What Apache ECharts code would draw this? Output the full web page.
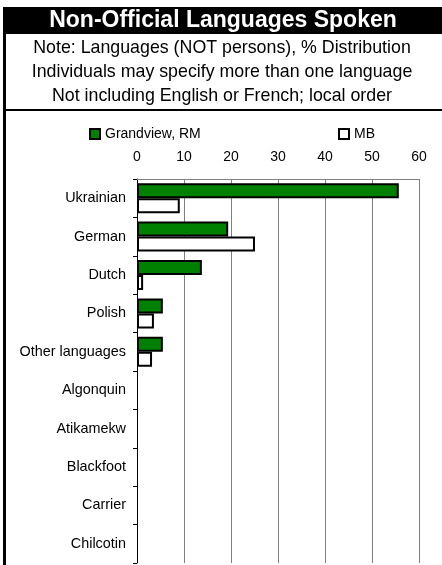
<!DOCTYPE html>
<html><head><meta charset="utf-8">
<script src="https://cdn.jsdelivr.net/npm/echarts@6/dist/echarts.min.js"></script>
<style>html,body{margin:0;padding:0;background:#fff;}#c{width:442px;height:565px;}</style>
</head><body><div id="c"></div>
<script>
const titleText = 'Non-Official Languages Spoken';
const subtitleLines = [
  'Note: Languages (NOT persons), % Distribution',
  'Individuals may specify more than one language',
  'Not including English or French; local order'
];
const categories = ['Ukrainian','German','Dutch','Polish','Other languages','Algonquin','Atikamekw','Blackfoot','Carrier','Chilcotin'];
const seriesNames = ['Grandview, RM','MB'];
const grandview = [55.7, 19.4, 13.8, 5.5, 5.5, 0, 0, 0, 0, 0];
const mb = [9.1, 25.1, 1.3, 3.6, 3.2, 0, 0, 0, 0, 0];
const xTicks = {min: 0, max: 60, interval: 10};

const font = 'Liberation Sans, Arial, sans-serif';
const toData = arr => arr.map(v => v === 0 ? {value: v, itemStyle: {borderWidth: 0}} : v);
const chart = echarts.init(document.getElementById('c'));
chart.setOption({
  backgroundColor: '#fff',
  animation: false,
  textStyle: {fontFamily: font},
  graphic: [
    {type: 'rect', shape: {x: 3, y: 7, width: 439, height: 27}, style: {fill: '#000'}},
    {type: 'rect', shape: {x: 3, y: 7, width: 3, height: 558}, style: {fill: '#000'}},
    {type: 'rect', shape: {x: 3, y: 109, width: 439, height: 2}, style: {fill: '#000'}},
    {type: 'text', x: 223, y: 21, style: {text: titleText, fill: '#fff', font: 'bold 23px ' + font, textAlign: 'center', textVerticalAlign: 'middle'}},
    {type: 'text', x: 222, y: 48, style: {text: subtitleLines[0], fill: '#000', font: '17.8px ' + font, textAlign: 'center', textVerticalAlign: 'middle'}},
    {type: 'text', x: 222, y: 72, style: {text: subtitleLines[1], fill: '#000', font: '17.8px ' + font, textAlign: 'center', textVerticalAlign: 'middle'}},
    {type: 'text', x: 222, y: 96, style: {text: subtitleLines[2], fill: '#000', font: '17.8px ' + font, textAlign: 'center', textVerticalAlign: 'middle'}}
  ],
  legend: [
    {data: [seriesNames[0]], left: 84, top: 122, itemWidth: 10, itemHeight: 10, itemGap: 0,
     icon: 'rect', textStyle: {fontSize: 14, color: '#000', fontFamily: font}},
    {data: [seriesNames[1]], left: 333, top: 122, itemWidth: 10, itemHeight: 10, itemGap: 0,
     icon: 'rect', textStyle: {fontSize: 14, color: '#000', fontFamily: font}}
  ],
  grid: {left: 137, top: 179, width: 282, height: 384, containLabel: false},
  xAxis: {
    type: 'value', position: 'top', min: xTicks.min, max: xTicks.max, interval: xTicks.interval,
    axisLine: {show: true, lineStyle: {color: '#808080', width: 1}},
    axisTick: {show: false},
    splitLine: {show: true, lineStyle: {color: '#808080', width: 1}},
    axisLabel: {fontSize: 14, color: '#000', margin: 15, fontFamily: font}
  },
  yAxis: {
    type: 'category', inverse: true, data: categories,
    axisLine: {show: true, lineStyle: {color: '#000', width: 1}},
    axisTick: {show: true, length: 4, lineStyle: {color: '#000'}},
    axisLabel: {fontSize: 14.4, color: '#000', margin: 11, fontFamily: font}
  },
  series: [
    {name: seriesNames[0], type: 'bar', data: toData(grandview), barWidth: 15, barGap: '0%',
     itemStyle: {color: '#008000', borderColor: '#000', borderWidth: 2}},
    {name: seriesNames[1], type: 'bar', data: toData(mb), barWidth: 15, barGap: '0%',
     itemStyle: {color: '#fff', borderColor: '#000', borderWidth: 2}}
  ]
});
</script></body></html>
